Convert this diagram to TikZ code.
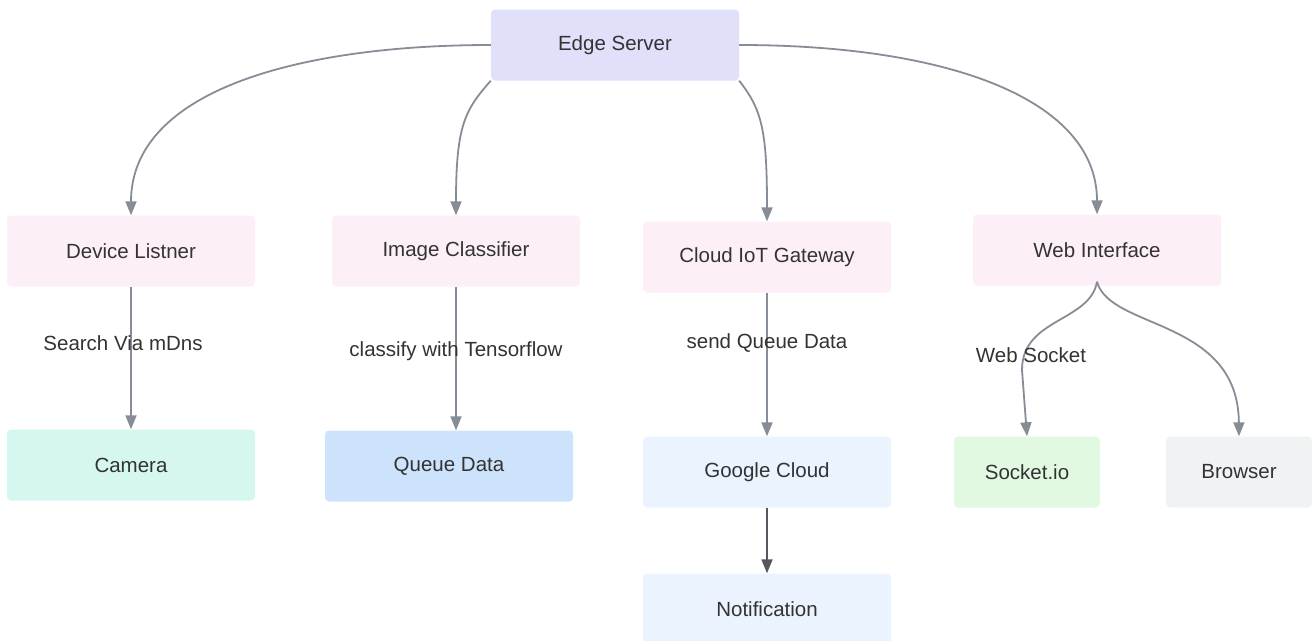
\documentclass[tikz,border=0pt]{standalone}
\usepackage{fontspec}
\setmainfont{Liberation Sans}
\usetikzlibrary{arrows.meta}
\definecolor{txt}{HTML}{333333}
\definecolor{edgec}{HTML}{878D96}
\definecolor{darkedge}{HTML}{55595F}
\definecolor{lav}{HTML}{E0E0FB}
\definecolor{pinkf}{HTML}{FDEFF8}
\definecolor{mint}{HTML}{D5F7F0}
\definecolor{qblue}{HTML}{CDE2FB}
\definecolor{lblue}{HTML}{EAF3FE}
\definecolor{lgreen}{HTML}{E1F9E0}
\definecolor{lgray}{HTML}{F1F2F4}
\begin{document}
\begin{tikzpicture}[x=1pt,y=-1pt,
  box/.style={rectangle, rounded corners=4pt, draw=none, minimum width=248pt, minimum height=71pt, inner sep=0pt, text=txt, font=\fontsize{20.5}{24}\selectfont},
  smallbox/.style={box, minimum width=146pt},
  conn/.style={draw=edgec, line width=1.8pt, -{Triangle[width=11pt,length=14pt]}},
  darkconn/.style={conn, draw=darkedge},
  lbl/.style={text=txt, font=\fontsize{20.5}{24}\selectfont, inner sep=0pt}]
\useasboundingbox (0,0) rectangle (1312,640);
\fill[white] (0,0) rectangle (1312,640);
% nodes
\node[box, fill=lav] (edge) at (615,45) {Edge Server};
\node[box, fill=pinkf] (dev) at (131,251) {Device Listner};
\node[box, fill=pinkf] (img) at (456,251) {Image Classifier};
\node[box, fill=pinkf] (iot) at (767,257) {Cloud IoT Gateway};
\node[box, fill=pinkf] (web) at (1097,250) {Web Interface};
\node[box, fill=mint] (cam) at (131,465) {Camera};
\node[box, fill=qblue] (queue) at (449,466) {Queue Data};
\node[box, fill=lblue] (gcloud) at (767,472) {Google Cloud};
\node[box, fill=lblue] (notif) at (767,609) {Notification};
\node[smallbox, fill=lgreen] (sock) at (1027,472) {Socket.io};
\node[smallbox, fill=lgray] (browser) at (1239,472) {Browser};
% connectors from Edge Server
\draw[conn] (edge.west) .. controls (300,45) and (131,90) .. (dev.north);
\draw[conn] (edge.south west) .. controls (465,110) and (456,125) .. (img.north);
\draw[conn] (edge.south east) .. controls (762,110) and (767,130) .. (iot.north);
\draw[conn] (edge.east) .. controls (950,45) and (1097,100) .. (web.north);
% straight connectors
\draw[conn] (dev.south) -- (cam.north -| dev.south);
\draw[conn] (img.south) -- (queue.north -| img.south);
\draw[conn] (iot.south) -- (gcloud.north);
\draw[darkconn] (gcloud.south) -- (notif.north);
% web interface branches
\coordinate (wb) at ([yshift=4pt]web.south);
\coordinate (bend) at (1022,370);
\draw[conn] (wb) .. controls (1090,322) and (1022,318) .. (bend) -- (sock.north);
\draw[conn] (wb) .. controls (1110,330) and (1238,318) .. (browser.north);
% labels
\node[lbl] (l1) at (123,343) {Search Via mDns};
\node[lbl] (l2) at (456,351) {classify with Tensorflow};
\node[lbl] (l3) at (767,343) {send Queue Data};
\node[lbl] (l4) at (1031,355) {Web Socket};
\end{tikzpicture}
\end{document}
